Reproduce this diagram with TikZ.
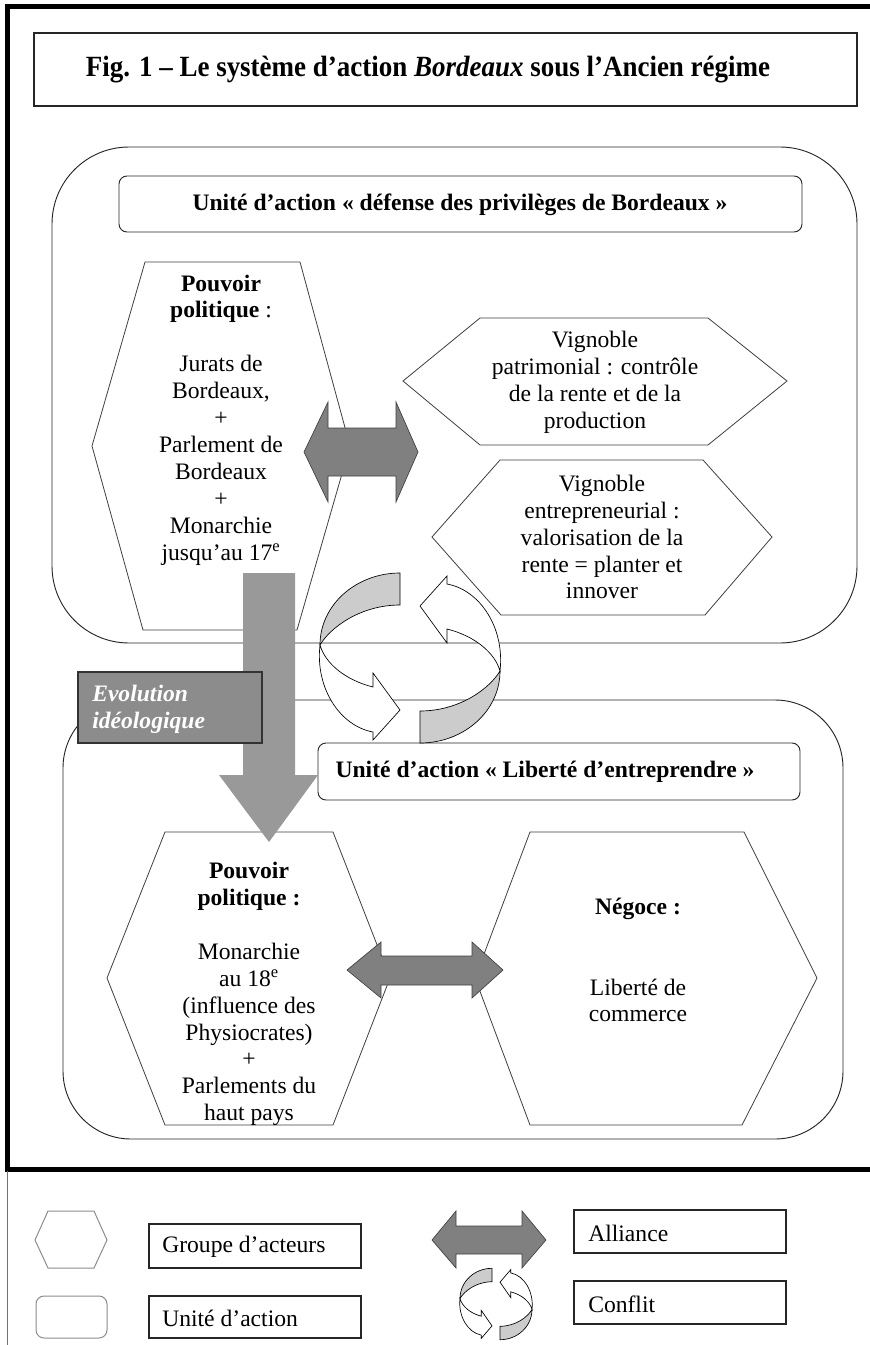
\documentclass[tikz,border=0pt]{standalone}
\usepackage{fontspec}
\setmainfont{Liberation Serif}
\tikzset{
  conflictring/.pic={
    \foreach \r in {0,180}{
      \begin{scope}[rotate=\r]
        \filldraw[fill=black!20, draw=black, line width=0.5pt]
          (-10,-85) .. controls (-54,-85) and (-90,-53) .. (-90,-13)
          .. controls (-80,-30) and (-50,-53) .. (-10,-53) -- cycle;
        \filldraw[fill=white, draw=black, line width=0.5pt]
          (-90,-13) .. controls (-95,30) and (-70,68) .. (-37,74)
          -- (-37,82) -- (-10,52) -- (-37,15) -- (-37,29)
          .. controls (-65,22) and (-85,5) .. (-90,-13) -- cycle;
      \end{scope}
    }
  }
}
\begin{document}
\begin{tikzpicture}[x=0.75pt,y=-0.75pt,
  body/.style={font=\fontsize{17.7}{20.2}\selectfont, align=center, inner sep=0pt},
  legtext/.style={font=\fontsize{17.7}{20.2}\selectfont, anchor=west, inner sep=0pt},
  hexline/.style={draw=black!75, line width=0.6pt, fill=white},
  unitbox/.style={draw=black!85, line width=0.7pt, fill=white},
  framebox/.style={draw=black!85, line width=1.1pt},
  allyarrow/.style={fill=black!50, draw=black!75, line width=0.5pt},
  evolarrow/.style={fill=black!40},
]
\useasboundingbox (0,0) rectangle (870,1345);

% page frame
\draw[line width=3.75pt] (7.5,1172) -- (7.5,6.5) -- (870,6.5);
\draw[line width=3.75pt] (5,1169.5) -- (870,1169.5);
\draw[black!55, line width=0.75pt] (7.5,1171) -- (7.5,1345);

% title
\draw[framebox] (34,33) rectangle (857,106);
\node[inner sep=0pt, xscale=0.92, font=\fontsize{22}{26}\selectfont\bfseries] (title) at (428,70)
  {Fig. 1 – Le système d’action \textit{Bordeaux} sous l’Ancien régime};

% the two units of action
\draw[unitbox, rounded corners=57.75pt] (52,147) rectangle (857,643);
\draw[unitbox, rounded corners=51pt] (63,700) rectangle (843,1139);

\draw[unitbox, rounded corners=6pt] (119,176) rectangle (802,232);
\node[body, font=\fontsize{17.7}{20.2}\selectfont\bfseries] (u1) at (460,205)
  {Unité d’action « défense des privilèges de Bordeaux »};

\draw[unitbox, rounded corners=6pt] (318,743) rectangle (800,800);
\node[body, font=\fontsize{17.7}{20.2}\selectfont\bfseries] (u2) at (545,772)
  {Unité d’action « Liberté d’entreprendre »};

% actor groups, upper unit
\draw[hexline] (145,262) -- (300,262) -- (350,446) -- (297,630) -- (143,630) -- (92,446) -- cycle;
\node[body] (pp1) at (221,420)
  {\textbf{Pouvoir}\\\textbf{politique} :\\\strut\\Jurats de\\Bordeaux,\\+\\Parlement de\\Bordeaux\\+\\Monarchie\\jusqu’au 17\textsuperscript{e}};

\draw[hexline] (480,318) -- (708,318) -- (787,381) -- (708,445) -- (480,445) -- (403,381) -- cycle;
\node[body] (vp) at (595,382)
  {Vignoble\\patrimonial : contrôle\\de la rente et de la\\production};

\draw[hexline] (500,460) -- (703,460) -- (772,537) -- (705,615) -- (501,615) -- (432,537) -- cycle;
\node[body] (ve) at (602,537)
  {Vignoble\\entrepreneurial :\\valorisation de la\\rente = planter et\\innover};

% actor groups, lower unit
\draw[hexline] (165,832) -- (333,832) -- (390,978) -- (333,1125) -- (165,1125) -- (107,978) -- cycle;
\node[body] (pp2) at (249,994)
  {\textbf{Pouvoir}\\\textbf{politique :}\\\strut\\Monarchie\\au 18\textsuperscript{e}\\(influence des\\Physiocrates)\\+\\Parlements du\\haut pays};

\draw[hexline] (530,832) -- (744,832) -- (817,978) -- (742,1125) -- (530,1125) -- (475,978) -- cycle;
\node[body] (neg) at (638,960)
  {\textbf{Négoce :}\\\strut\\\strut\\Liberté de\\commerce};

% alliances
\filldraw[allyarrow] (304,452) -- (328,402) -- (328,428) -- (396,428) -- (396,402) -- (418,452)
  -- (396,502) -- (396,476) -- (328,476) -- (328,502) -- cycle;
\filldraw[allyarrow] (347,970) -- (381,942) -- (381,956) -- (472,956) -- (472,942) -- (503,970)
  -- (472,998) -- (472,985) -- (381,985) -- (381,998) -- cycle;

% conflict between the two units
\pic at (410,658) {conflictring};

% ideological evolution
\fill[evolarrow] (243,573) -- (295,573) -- (295,775) -- (318,775) -- (269,842) -- (219,775) -- (243,775) -- cycle;
\draw[fill=black!45, draw=black!80, line width=0.8pt] (78,672) rectangle (262,743);
\node[inner sep=0pt, anchor=west, align=left, text=white,
  font=\fontsize{17.7}{20.2}\selectfont\bfseries\itshape] (evo) at (92,709)
  {Evolution\\idéologique};

% legend
\draw[black!45, line width=0.75pt] (48,1211) -- (94,1211) -- (107,1240) -- (94,1268) -- (48,1268) -- (35,1240) -- cycle;
\draw[black!45, line width=0.75pt, rounded corners=6pt] (36,1296) rectangle (107,1338);
\draw[framebox] (149,1224) rectangle (361,1268);
\node[legtext] (lg1) at (162,1247) {Groupe d’acteurs};
\draw[framebox] (149,1296) rectangle (361,1338);
\node[legtext] (lg2) at (162,1318) {Unité d’action};

\filldraw[allyarrow] (432,1240) -- (456,1211) -- (456,1226) -- (522,1226) -- (522,1211) -- (546,1240)
  -- (522,1268) -- (522,1254) -- (456,1254) -- (456,1268) -- cycle;
\draw[framebox] (574,1210) rectangle (786,1253);
\node[legtext] (lg3) at (588,1233) {Alliance};

\pic[xscale=0.40, yscale=0.42] at (496,1304) {conflictring};
\draw[framebox] (574,1281) rectangle (786,1324);
\node[legtext] (lg4) at (588,1304) {Conflit};
\end{tikzpicture}
\end{document}
